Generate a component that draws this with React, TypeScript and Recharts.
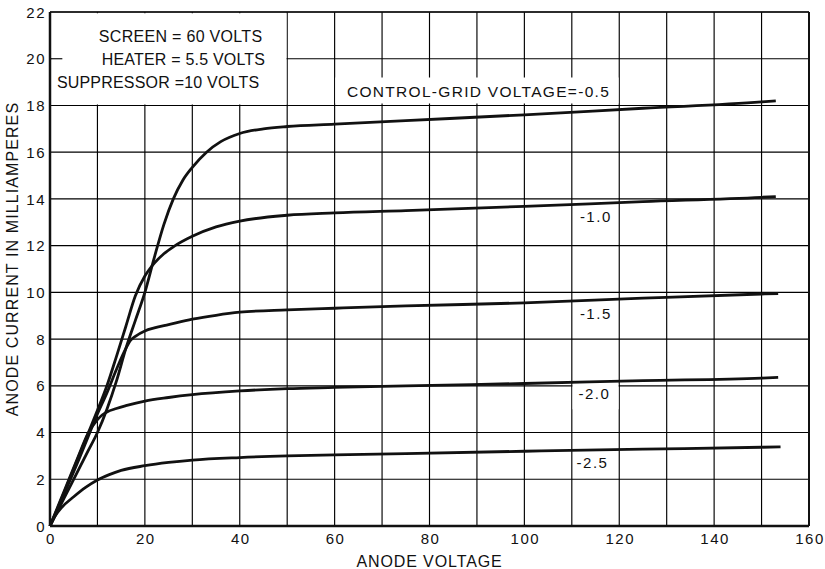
import { LineChart, Line, XAxis, YAxis, CartesianGrid, ReferenceArea, ReferenceLine, ReferenceDot } from 'recharts'

const FONT = '"Liberation Sans", Arial, sans-serif'
const INK = '#111'

const xTicks = [0, 10, 20, 30, 40, 50, 60, 70, 80, 90, 100, 110, 120, 130, 140, 150, 160]
const yTicks = [0, 2, 4, 6, 8, 10, 12, 14, 16, 18, 20, 22]

// anode voltage / anode current (mA) for each control-grid voltage
const voltsM05 = [0, 2, 4, 6, 8, 10, 12, 14, 16, 18, 20, 22, 24, 26, 28, 30, 33, 36, 40, 45, 50, 60, 75, 100, 125, 150, 153]
const ampsM05 = [0, 0.8, 1.6, 2.4, 3.2, 4.0, 5.0, 6.2, 7.6, 8.8, 10.0, 11.5, 12.9, 14.0, 14.8, 15.35, 16.0, 16.45, 16.8, 17.0, 17.1, 17.2, 17.35, 17.6, 17.88, 18.15, 18.2]

const voltsM10 = [0, 2, 4, 6, 8, 10, 12, 14, 16, 18, 20, 21, 22, 24, 26, 30, 35, 40, 50, 60, 75, 100, 125, 150, 153]
const ampsM10 = [0, 0.95, 1.95, 2.95, 3.95, 4.95, 6.0, 7.25, 8.55, 9.85, 10.7, 11.0, 11.25, 11.65, 11.95, 12.4, 12.8, 13.05, 13.3, 13.4, 13.5, 13.68, 13.88, 14.07, 14.1]

const voltsM15 = [0, 2, 4, 6, 8, 10, 12, 14, 16, 17, 18, 20, 22, 25, 30, 35, 40, 50, 60, 75, 100, 125, 150, 153.5]
const ampsM15 = [0, 0.9, 1.85, 2.8, 3.8, 4.8, 5.7, 6.7, 7.6, 7.95, 8.12, 8.35, 8.48, 8.62, 8.85, 9.02, 9.15, 9.25, 9.32, 9.42, 9.55, 9.75, 9.93, 9.95]

const voltsM20 = [0, 2, 4, 6, 8, 10, 11, 12, 14, 16, 20, 25, 30, 40, 50, 60, 75, 100, 125, 150, 153.5]
const ampsM20 = [0, 1.0, 2.0, 3.0, 3.95, 4.55, 4.75, 4.88, 5.03, 5.15, 5.35, 5.5, 5.62, 5.78, 5.88, 5.93, 6.0, 6.1, 6.22, 6.33, 6.36]

const voltsM25 = [0, 1, 2.5, 5, 7.5, 10, 12.5, 15, 20, 25, 30, 40, 50, 60, 75, 100, 125, 150, 154]
const ampsM25 = [0, 0.4, 0.8, 1.25, 1.65, 1.97, 2.2, 2.38, 2.58, 2.72, 2.82, 2.93, 3.0, 3.04, 3.1, 3.2, 3.29, 3.37, 3.39]

const toPoints = (xs: number[], ys: number[]) => xs.map((x, i) => ({ x, y: ys[i] }))

const curves = [
  { key: 'm05', data: toPoints(voltsM05, ampsM05) },
  { key: 'm10', data: toPoints(voltsM10, ampsM10) },
  { key: 'm15', data: toPoints(voltsM15, ampsM15) },
  { key: 'm20', data: toPoints(voltsM20, ampsM20) },
  { key: 'm25', data: toPoints(voltsM25, ampsM25) },
]

// text notes: start of baseline in data units
const notes = [
  { x: 10.3, y: 20.73, text: 'SCREEN = 60 VOLTS', size: 16, spacing: 0.3 },
  { x: 10.9, y: 19.73, text: 'HEATER = 5.5 VOLTS', size: 16, spacing: 0.2 },
  { x: 1.45, y: 18.73, text: 'SUPPRESSOR =10 VOLTS', size: 16, spacing: 0.2 },
  { x: 62.6, y: 18.35, text: 'CONTROL-GRID VOLTAGE=-0.5', size: 15.5, spacing: 1.3 },
  { x: 111.7, y: 13.03, text: '-1.0', size: 15, spacing: 1.5 },
  { x: 111.7, y: 8.85, text: '-1.5', size: 15, spacing: 1.5 },
  { x: 111.4, y: 5.42, text: '-2.0', size: 15, spacing: 1.5 },
  { x: 111.0, y: 2.47, text: '-2.5', size: 15, spacing: 1.5 },
]

const XTick = ({ x, y, payload }: any) => {
  if (payload.value % 20 !== 0) return null
  return (
    <text x={x + 1} y={y + 17.5} textAnchor="middle" fontSize={15} letterSpacing={1.5} fill={INK} fontFamily={FONT}>
      {payload.value}
    </text>
  )
}

const YTick = ({ x, y, payload }: any) => (
  <text x={x - 4} y={y + 5.6} textAnchor="end" fontSize={15} letterSpacing={1.5} fill={INK} fontFamily={FONT}>
    {payload.value}
  </text>
)

export default function App() {
  return (
    <div style={{ position: 'absolute', left: 0, top: 0, width: 825, height: 569, background: '#fff' }}>
      <LineChart width={825} height={569} margin={{ top: 12, right: 16, bottom: 0, left: 0 }} style={{ fontFamily: FONT }}>
        <CartesianGrid stroke="#000" strokeWidth={1.15} />
        <XAxis
          type="number"
          dataKey="x"
          domain={[0, 160]}
          ticks={xTicks}
          interval={0}
          height={43}
          tickSize={0}
          tickMargin={0}
          tickLine={false}
          tick={<XTick />}
          axisLine={{ stroke: INK, strokeWidth: 2.5 }}
          label={(p: any) => (
            <text x={p.viewBox.x + p.viewBox.width / 2} y={p.viewBox.y + 40.5} textAnchor="middle" fontSize={16} letterSpacing={0.9} fill={INK} fontFamily={FONT}>
              ANODE VOLTAGE
            </text>
          )}
        />
        <YAxis
          type="number"
          domain={[0, 22]}
          ticks={yTicks}
          interval={0}
          width={50}
          tickSize={0}
          tickMargin={0}
          tickLine={false}
          tick={<YTick />}
          axisLine={{ stroke: INK, strokeWidth: 2.5 }}
          label={(p: any) => {
            const cx = p.viewBox.x + 18.3
            const cy = p.viewBox.y + p.viewBox.height / 2 - 10
            return (
              <text x={cx} y={cy} transform={`rotate(-90 ${cx} ${cy})`} textAnchor="middle" fontSize={16} letterSpacing={1.1} fill={INK} fontFamily={FONT}>
                ANODE CURRENT IN MILLIAMPERES
              </text>
            )
          }}
        />
        <ReferenceArea x1={0.3} x2={49.85} y1={18.04} y2={21.95} fill="#fff" fillOpacity={1} stroke="none" />
        <ReferenceArea x1={60.15} x2={119.85} y1={18.08} y2={19.2} fill="#fff" fillOpacity={1} stroke="none" />
        <ReferenceArea x1={110.15} x2={119.85} y1={5.0} y2={6.06} fill="#fff" fillOpacity={1} stroke="none" />
        <ReferenceLine segment={[{ x: 0, y: 20 }, { x: 2.6, y: 20 }]} stroke={INK} strokeWidth={1.2} />
        <ReferenceLine x={160} stroke={INK} strokeWidth={2} />
        <ReferenceLine y={22} stroke={INK} strokeWidth={1.5} />
        {curves.map((c) => (
          <Line
            key={c.key}
            data={c.data}
            dataKey="y"
            type="monotone"
            stroke={INK}
            strokeWidth={2.8}
            dot={false}
            activeDot={false}
            isAnimationActive={false}
          />
        ))}
        {notes.map((n) => (
          <ReferenceDot
            key={n.text}
            x={n.x}
            y={n.y}
            r={0}
            fill="none"
            stroke="none"
            label={(p: any) => (
              <text x={p.viewBox.x + (p.viewBox.width || 0) / 2} y={p.viewBox.y + (p.viewBox.height || 0) / 2} fontSize={n.size} letterSpacing={n.spacing} fill={INK} fontFamily={FONT}>
                {n.text}
              </text>
            )}
          />
        ))}
      </LineChart>
    </div>
  )
}
